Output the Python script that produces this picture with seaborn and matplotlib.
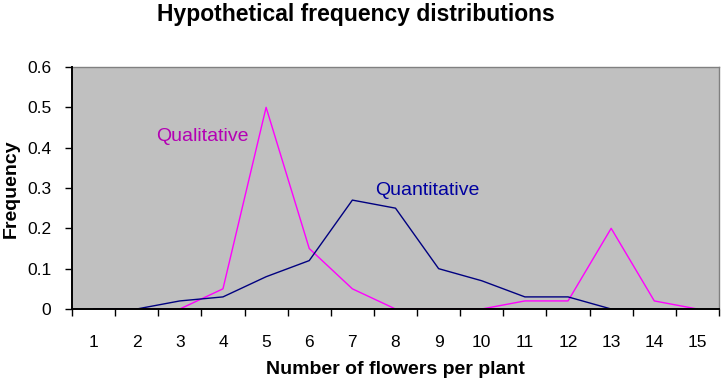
import numpy as np
import pandas as pd
import matplotlib
matplotlib.use("Agg")
import matplotlib.pyplot as plt
import seaborn as sns

# 数据
flowers = list(range(1, 16))
qualitative = [0, 0, 0, 0.05, 0.5, 0.15, 0.05, 0, 0, 0, 0.02, 0.02, 0.2, 0.02, 0]
quantitative = [0, 0, 0.02, 0.03, 0.08, 0.12, 0.27, 0.25, 0.10, 0.07, 0.03, 0.03, 0, 0, 0]
y_ticks = [0, 0.1, 0.2, 0.3, 0.4, 0.5, 0.6]
y_tick_labels = ["0", "0.1", "0.2", "0.3", "0.4", "0.5", "0.6"]

sns.set_style("white")
plt.rcParams['font.family'] = ['Liberation Sans', 'DejaVu Sans']
plt.rcParams['text.color'] = 'black'
plt.rcParams['xtick.color'] = 'black'
plt.rcParams['ytick.color'] = 'black'
plt.rcParams['axes.labelcolor'] = 'black'

df = pd.DataFrame({"flowers": flowers, "Qualitative": qualitative, "Quantitative": quantitative})

W, H = 725, 382
fig = plt.figure(figsize=(W / 100, H / 100), dpi=100)
ax = fig.add_axes([72 / W, 1 - 309 / H, (719 - 72) / W, (309 - 67) / H])
ax.set_facecolor("#C0C0C0")

sns.lineplot(data=df, x="flowers", y="Qualitative", color="#FF00FF", linewidth=1, ax=ax)
sns.lineplot(data=df, x="flowers", y="Quantitative", color="#000080", linewidth=1, ax=ax)

ax.set_xlim(0.5, 15.5)
ax.set_ylim(0, 0.6)
ax.set_yticks(y_ticks)
ax.set_yticklabels(y_tick_labels, fontsize=12.5)

# 分类轴：刻度在类别之间，标签在中间
ax.set_xticks(np.arange(0.5, 16, 1))
ax.set_xticklabels([])
ax.set_xticks(flowers, minor=True)
ax.set_xticklabels([str(f) for f in flowers], minor=True, fontsize=12.5)
ax.tick_params(axis="x", which="major", direction="out", length=5, width=1, color="black", bottom=True)
ax.tick_params(axis="x", which="minor", length=0, pad=19, labelcolor="black")
ax.tick_params(axis="y", direction="out", length=5, width=1, color="black", left=True, pad=10,
               labelcolor="black")

for side in ["left", "bottom"]:
    ax.spines[side].set_color("black")
    ax.spines[side].set_linewidth(1.4)
    ax.spines[side].set_zorder(5)
for side in ["top", "right"]:
    ax.spines[side].set_visible(True)
    ax.spines[side].set_color("#808080")
    ax.spines[side].set_linewidth(1)

ax.set_xlabel("")
ax.set_ylabel("")
fig.text(395.5 / W, 1 - 370 / H, "Number of flowers per plant", fontsize=14, fontweight="bold",
         ha="center", va="center", color="black")
fig.text(11 / W, 1 - 188.5 / H, "Frequency", fontsize=14, fontweight="bold",
         ha="center", va="center", rotation=90, color="black")
fig.text(355.5 / W, 1 - 14 / H, "Hypothetical frequency distributions", fontsize=16.5,
         fontweight="bold", ha="center", va="center", color="black")

ax.text(2.44, 0.4156, "Qualitative", color="#B400B4", fontsize=14, va="baseline")
ax.text(7.52, 0.2834, "Quantitative", color="#0000A0", fontsize=14, va="baseline")

fig.savefig("out.png", dpi=100)
